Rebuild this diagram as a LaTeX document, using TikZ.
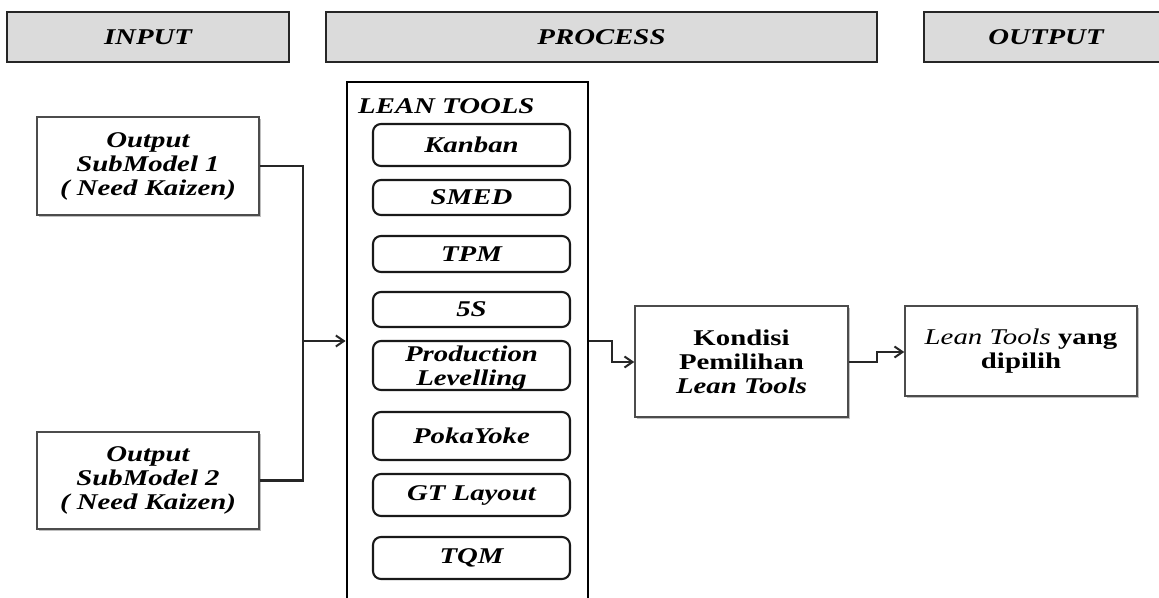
\documentclass[tikz,border=0pt]{standalone}
\usepackage{fontspec}
\setmainfont[FakeStretch=1.28]{Liberation Serif}
\usetikzlibrary{arrows.meta,shadows}
\begin{document}
\begin{tikzpicture}[x=1pt,y=-1pt,
  hdr/.style={draw=black!85,line width=2.4pt,fill=gray!28,inner sep=0pt,
    font=\fontsize{22.5}{24}\selectfont\bfseries\itshape},
  box/.style={draw=black!70,line width=1.5pt,fill=white,inner sep=0pt,align=center,
    drop shadow={shadow xshift=1.5pt,shadow yshift=-1.5pt,fill=black!25,opacity=1},
    font=\fontsize{22.5}{24}\selectfont\bfseries},
  tool/.style={draw=black!90,line width=2.1pt,rounded corners=8pt,inner sep=0pt,align=center,
    minimum width=197pt,font=\fontsize{22.5}{24}\selectfont\bfseries\itshape},
  conn/.style={draw=black!85,line width=2.4pt},
  arr/.style={conn,-{Straight Barb[length=8pt,width=11pt,line width=2pt]}}
]
\useasboundingbox (0,0) rectangle (1159,597);
% headers
\node[hdr,minimum width=282pt,minimum height=50pt] (hin) at (148,37) {INPUT};
\node[hdr,minimum width=551pt,minimum height=50pt] (hpr) at (601.5,37) {PROCESS};
\node[hdr,minimum width=244pt,minimum height=50pt] (hout) at (1046,37) {OUTPUT};
% lean tools container
\node[draw=black,line width=2.8pt,minimum width=241pt,minimum height=528pt,inner sep=0pt] (lean) at (467.5,346) {};
\node[anchor=base west,inner sep=0pt,font=\fontsize{22.5}{24}\selectfont\bfseries\itshape] (leant) at (358,113) {LEAN TOOLS};
% tools
\node[tool,minimum height=42pt] (kanban) at (471.5,145) {Kanban};
\node[tool,minimum height=35pt] (smed) at (471.5,197.5) {SMED};
\node[tool,minimum height=36pt] (tpm) at (471.5,254) {TPM};
\node[tool,minimum height=35pt] (s5) at (471.5,309.5) {5S};
\node[tool,minimum height=49pt] (prod) at (471.5,365.5) {};
\node[align=center,inner sep=0pt,font=\fontsize{22.5}{24}\selectfont\bfseries\itshape] (prodt) at (471.5,368) {Production\\Levelling};
\node[tool,minimum height=48pt] (poka) at (471.5,436) {PokaYoke};
\node[tool,minimum height=42pt] (gt) at (471.5,495) {GT Layout};
\node[tool,minimum height=42pt] (tqm) at (471.5,558) {TQM};
% input boxes
\node[box,minimum width=222pt,minimum height=98pt,font=\fontsize{22.5}{24}\selectfont\bfseries\itshape] (sm1) at (148,166) {Output\\SubModel 1\\( Need Kaizen)};
\node[box,minimum width=222pt,minimum height=97pt,font=\fontsize{22.5}{24}\selectfont\bfseries\itshape] (sm2) at (148,480.5) {Output\\SubModel 2\\( Need Kaizen)};
% kondisi and output
\node[box,minimum width=213pt,minimum height=111pt] (kond) at (741.5,361.5) {Kondisi\\Pemilihan\\\textit{Lean Tools}};
\node[box,minimum width=232pt,minimum height=90pt] (res) at (1021,351) {\textmd{\textit{Lean Tools}} yang\\dipilih};
% connectors
\coordinate (jn) at (303,341);
\draw[conn] (sm1.east) -| (jn);
\draw[conn] (sm2.east) -| (jn);
\draw[arr] (jn) -- (jn -| lean.west);
\coordinate (j2) at (612,341);
\draw[arr] (lean.east |- j2) -- (j2) |- (kond.west |- 0,362);
\coordinate (j3) at (877,362);
\draw[arr] (kond.east |- j3) -- (j3) |- (res.west |- 0,352);
\end{tikzpicture}
\end{document}
